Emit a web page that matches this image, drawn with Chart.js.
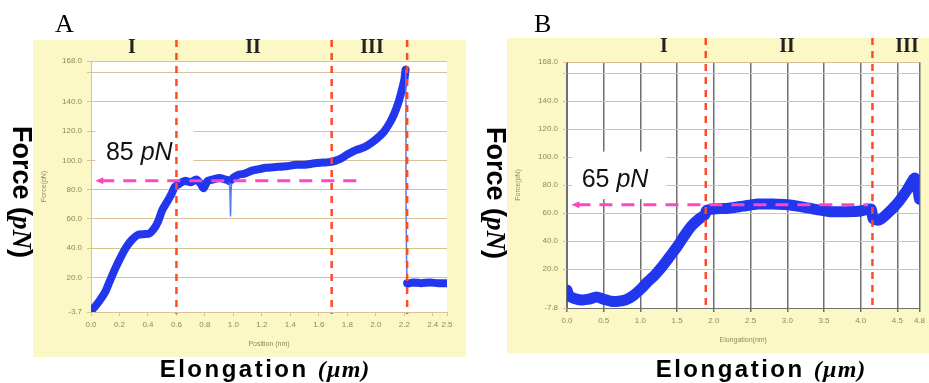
<!DOCTYPE html>
<html>
<head>
<meta charset="utf-8">
<script src="https://cdn.jsdelivr.net/npm/chart.js@4.4.1/dist/chart.umd.min.js"></script>
<style>
  html, body { margin: 0; padding: 0; background: #ffffff; }
  body { width: 929px; height: 383px; position: relative; overflow: hidden; }
  .panel { position: absolute; background: #fcf8c6; }
  #panelA { left: 33px; top: 40px; width: 433px; height: 317px; }
  #panelB { left: 507px; top: 38px; width: 422px; height: 315px; }
  svg.labels { position: absolute; left: 0; top: 0; pointer-events: none; }
</style>
</head>
<body>
<div class="panel" id="panelA"><canvas id="chartA" width="433" height="317"></canvas></div>
<div class="panel" id="panelB"><canvas id="chartB" width="422" height="315"></canvas></div>

<svg class="labels" width="929" height="383">
  <g font-family="'Liberation Serif', 'Times New Roman', serif" fill="#000">
    <text x="55" y="32" font-size="26">A</text>
    <text x="534" y="32" font-size="26">B</text>
  </g>
  <g font-family="'Liberation Serif', 'Times New Roman', serif" font-weight="bold" font-size="20" fill="#222" text-anchor="middle">
    <text x="132" y="53">I</text>
    <text x="253" y="53">II</text>
    <text x="372" y="53">III</text>
    <text x="664" y="52">I</text>
    <text x="787" y="52">II</text>
    <text x="907" y="52">III</text>
  </g>
  <g font-family="'Liberation Sans', Arial, sans-serif" font-weight="bold" fill="#000">
    <text transform="translate(13,192) rotate(90)" text-anchor="middle" font-size="27">Force <tspan>(</tspan><tspan font-family="'Liberation Serif', serif" font-style="italic">pN</tspan><tspan>)</tspan></text>
    <text transform="translate(487,193) rotate(90)" text-anchor="middle" font-size="27">Force <tspan>(</tspan><tspan font-family="'Liberation Serif', serif" font-style="italic">pN</tspan><tspan>)</tspan></text>
    <text x="265" y="377" text-anchor="middle" font-size="24" letter-spacing="2.5">Elongation <tspan font-family="'Liberation Serif', serif" font-style="italic" letter-spacing="1">(µm)</tspan></text>
    <text x="761" y="377" text-anchor="middle" font-size="24" letter-spacing="2.5">Elongation <tspan font-family="'Liberation Serif', serif" font-style="italic" letter-spacing="1">(µm)</tspan></text>
  </g>
</svg>

<script>
// ---- panel A: position (um) vs force (pN)
const aX = [0.00, 0.02, 0.06, 0.10, 0.13, 0.17, 0.21, 0.25, 0.29, 0.33, 0.37, 0.41, 0.44, 0.47, 0.50, 0.53, 0.56, 0.59,
            0.62, 0.66, 0.70, 0.74, 0.77, 0.79, 0.82, 0.86, 0.90, 0.94, 0.97, 0.98, 0.99, 1.03, 1.08, 1.13, 1.18, 1.23,
            1.30, 1.37, 1.44, 1.50, 1.57, 1.63, 1.69, 1.75, 1.80, 1.86, 1.92, 1.97, 2.02, 2.06, 2.10, 2.13, 2.16, 2.18,
            2.20, 2.21, 2.22, 2.26, 2.32, 2.38, 2.44, 2.50];
const aY = [-3, -1, 4, 10, 17, 26, 34, 41, 46, 49, 49.5, 50, 53, 58, 66, 71, 76, 82,
            84, 86, 85, 87, 84, 81, 86, 87, 88, 87, 86, 62, 87, 90, 91, 93, 94, 95,
            95.5, 96, 97, 97, 98, 98.5, 99, 101, 104, 107, 109, 112, 116, 120, 126, 132, 140, 147,
            155, 162, 16, 16.5, 16, 16.5, 16, 16];
const aXTicks = [0.0, 0.2, 0.4, 0.6, 0.8, 1.0, 1.2, 1.4, 1.6, 1.8, 2.0, 2.2, 2.4, 2.5];
const aYTicks = [-3.7, 20, 40, 60, 80, 100, 120, 140, 160, 168];
const aDividers = [0.6, 1.69, 2.22];
const aPlateau = 86;       // dashed "85 pN" level
const aPlateauLabel = '85';

// ---- panel B: elongation (um) vs force (pN)
const bX = [0.00, 0.03, 0.10, 0.20, 0.30, 0.40, 0.50, 0.60, 0.70, 0.80, 0.90, 1.00, 1.10, 1.20, 1.30, 1.40, 1.50, 1.60,
            1.70, 1.80, 1.88, 1.90, 2.00, 2.20, 2.40, 2.60, 2.80, 3.00, 3.20, 3.40, 3.60, 3.80, 4.00, 4.14, 4.17, 4.25,
            4.35, 4.50, 4.63, 4.74, 4.80];
const bY = [5, 1, -1, -2, -1.5, 0, -1.5, -3, -3, -2, 1, 5.5, 11, 16, 22, 29, 36, 44,
            51, 56, 59, 62, 63, 63.5, 65, 66.5, 66.5, 66, 64.5, 62.5, 61, 61, 61.5, 63, 56, 55,
            59, 67, 76.5, 85, 70];
const bXTicks = [0.0, 0.5, 1.0, 1.5, 2.0, 2.5, 3.0, 3.5, 4.0, 4.5, 4.8];
const bYTicks = [-7.8, 20, 40, 60, 80, 100, 120, 140, 160, 168];
const bDividers = [1.89, 4.16];
const bPlateau = 66;
const bPlateauLabel = '65';

const tickColor = '#8b8a5a';
const tan = '#dcc09c';
const olive = '#cfc888';

Chart.defaults.font.family = "'Liberation Sans', Arial, sans-serif";

// white plot area, label box, dashed guides
const panelDeco = {
  id: 'panelDeco',
  beforeDraw(chart) {
    const { ctx, chartArea: a } = chart;
    ctx.save();
    ctx.fillStyle = '#ffffff';
    ctx.fillRect(a.left, a.top, a.right - a.left, a.bottom - a.top);
    ctx.restore();
  },
  beforeDatasetsDraw(chart, args, o) {
    const { ctx, scales: { x, y } } = chart;
    const b = o.box;
    ctx.save();
    ctx.fillStyle = '#ffffff';
    ctx.fillRect(x.getPixelForValue(b[0]), y.getPixelForValue(b[3]),
                 x.getPixelForValue(b[1]) - x.getPixelForValue(b[0]),
                 y.getPixelForValue(b[2]) - y.getPixelForValue(b[3]));
    ctx.fillStyle = '#111';
    ctx.textBaseline = 'alphabetic';
    let tx = x.getPixelForValue(o.textAt[0]);
    const ty = y.getPixelForValue(o.textAt[1]);
    ctx.font = "25px 'Liberation Sans', Arial, sans-serif";
    ctx.fillText(o.text + ' ', tx, ty);
    tx += ctx.measureText(o.text + ' ').width;
    ctx.font = "italic 25px 'Liberation Sans', Arial, sans-serif";
    ctx.fillText('pN', tx, ty);
    ctx.restore();
  },
  afterDatasetsDraw(chart, args, o) {
    const { ctx, chartArea: a, scales: { x, y } } = chart;
    ctx.save();
    // magenta plateau line with arrow
    const ly = y.getPixelForValue(o.level);
    const lx0 = x.getPixelForValue(o.levelFrom);
    const lx1 = x.getPixelForValue(o.levelTo);
    ctx.strokeStyle = '#ff45c2';
    ctx.fillStyle = '#ff45c2';
    ctx.lineWidth = 3;
    ctx.setLineDash([13, 9]);
    ctx.beginPath();
    ctx.moveTo(lx0 + 6, ly);
    ctx.lineTo(lx1, ly);
    ctx.stroke();
    ctx.beginPath();
    ctx.moveTo(lx0, ly);
    ctx.lineTo(lx0 + 8, ly - 3.5);
    ctx.lineTo(lx0 + 8, ly + 3.5);
    ctx.closePath();
    ctx.fill();
    // red region dividers
    ctx.strokeStyle = '#ff4a26';
    ctx.lineWidth = 2.5;
    ctx.setLineDash([7, 6]);
    o.dividers.forEach(v => {
      const px = x.getPixelForValue(v);
      ctx.beginPath();
      ctx.moveTo(px, 0);
      ctx.lineTo(px, a.bottom + 2);
      ctx.stroke();
    });
    ctx.restore();
  }
};

function makeChart(id, xs, ys, xTicks, yTicks, opts) {
  const pts = xs.map((v, i) => ({ x: v, y: ys[i] }));
  return new Chart(document.getElementById(id), {
    type: 'line',
    data: {
      datasets: [{
        data: pts,
        borderColor: '#2236ee',
        borderWidth: opts.lineWidth,
        pointRadius: 0,
        tension: 0.25,
        borderCapStyle: 'round',
        borderJoinStyle: 'round',
        segment: {
          // sudden drops/spikes are thin in the trace
          borderWidth: c => Math.abs(c.p1.parsed.y - c.p0.parsed.y) > 20 ? 1.5 : undefined,
          borderColor: c => Math.abs(c.p1.parsed.y - c.p0.parsed.y) > 20 ? '#5a7af5' : undefined
        }
      }]
    },
    options: {
      responsive: false,
      animation: false,
      layout: { padding: opts.padding },
      plugins: {
        legend: { display: false },
        tooltip: { enabled: false },
        panelDeco: opts.deco
      },
      scales: {
        x: {
          type: 'linear',
          min: xTicks[0],
          max: xTicks[xTicks.length - 1],
          afterBuildTicks: s => { s.ticks = xTicks.map(v => ({ value: v })); },
          afterFit: s => { s.height = 45; },
          ticks: {
            autoSkip: false, maxRotation: 0, padding: 4,
            color: tickColor, font: { size: 8 },
            callback: v => v.toFixed(1)
          },
          grid: {
            drawOnChartArea: opts.xGrid,
            color: opts.xGrid ? '#6f6f6f' : tan,
            lineWidth: opts.xGrid ? 1.5 : 1,
            tickLength: 4
          },
          border: { color: opts.xGrid ? '#6f6f6f' : tan },
          title: {
            display: true, text: opts.xTitle, color: tickColor,
            font: { size: 7 }, padding: { top: 0, bottom: 9 }
          }
        },
        y: {
          type: 'linear',
          min: yTicks[0],
          max: yTicks[yTicks.length - 1],
          afterBuildTicks: s => { s.ticks = yTicks.map(v => ({ value: v })); },
          afterFit: s => { s.width = opts.yWidth; },
          ticks: {
            autoSkip: false, padding: 5,
            color: tickColor, font: { size: 8 },
            callback: v => v === 160 ? '' : v.toFixed(1)
          },
          grid: {
            color: c => (c.tick && (c.tick.value === 40 || c.tick.value === 80)) ? olive : tan,
            lineWidth: 1,
            tickLength: 4
          },
          border: { color: opts.xGrid ? '#6f6f6f' : tan },
          title: {
            display: true, text: 'Force(pN)', color: tickColor,
            font: { size: 7 }, padding: { top: 7, bottom: 0 }
          }
        }
      }
    },
    plugins: [panelDeco]
  });
}

makeChart('chartA', aX, aY, aXTicks, aYTicks, {
  lineWidth: 8,
  padding: { top: 21, right: 19, left: 0, bottom: 0 },
  yWidth: 58,
  xGrid: false,
  xTitle: 'Position (nm)',
  deco: {
    dividers: aDividers,
    level: aPlateau, levelFrom: 0.03, levelTo: 1.9,
    box: [0.03, 0.72, 90, 128],
    text: aPlateauLabel, textAt: [0.105, 100]
  }
});

makeChart('chartB', bX, bY, bXTicks, bYTicks, {
  lineWidth: 11,
  padding: { top: 24, right: 7, left: 0, bottom: 0 },
  yWidth: 60,
  xGrid: true,
  xTitle: 'Elongation(nm)',
  deco: {
    dividers: bDividers,
    level: bPlateau, levelFrom: 0.06, levelTo: 4.1,
    box: [0.07, 1.35, 70, 104],
    text: bPlateauLabel, textAt: [0.2, 79]
  }
});
</script>
</body>
</html>
